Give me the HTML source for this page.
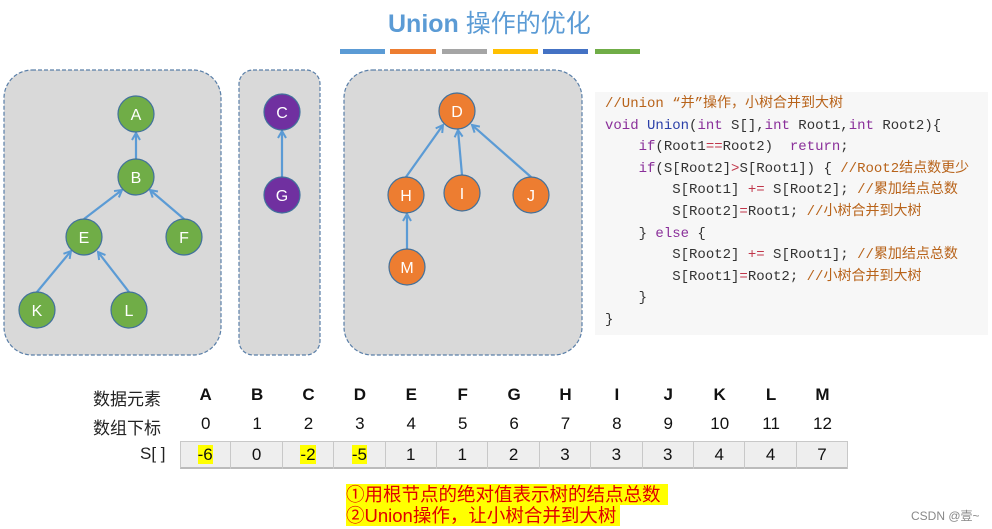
<!DOCTYPE html>
<html><head><meta charset="utf-8"><style>
body{margin:0;width:992px;height:529px;background:#fff;position:relative;overflow:hidden;font-family:"Liberation Sans","Noto Sans CJK SC",sans-serif}
.a{position:absolute;white-space:nowrap}
.code{font-family:"Liberation Mono","Noto Sans CJK SC",monospace;font-size:14px;color:#333}
.k{color:#8a2f9a}.f{color:#2a3fa8}.c{color:#b8631a}.o{color:#c0364a}
.cell{position:absolute;top:441px;height:28px;width:51.4px;border-right:1px solid #c8c8c8;text-align:center;font-size:17px;line-height:28px;color:#111;box-sizing:border-box}
.hl{background:#ffff00}
</style></head><body>
<div class="a" style="left:388px;top:4px;font-size:25px;font-weight:bold;color:#5b9bd5">Union <span style="font-weight:normal">操作的优化</span></div>
<div class="a" style="left:340px;top:49px;width:45px;height:5px;background:#5b9bd5"></div>
<div class="a" style="left:390px;top:49px;width:46px;height:5px;background:#ed7d31"></div>
<div class="a" style="left:442px;top:49px;width:45px;height:5px;background:#a5a5a5"></div>
<div class="a" style="left:493px;top:49px;width:45px;height:5px;background:#ffc000"></div>
<div class="a" style="left:543px;top:49px;width:45px;height:5px;background:#4472c4"></div>
<div class="a" style="left:595px;top:49px;width:45px;height:5px;background:#70ad47"></div>

<svg class="a" style="left:0;top:0" width="992" height="529">
<defs><marker id="ar" markerWidth="10" markerHeight="10" refX="8" refY="5" orient="auto" markerUnits="userSpaceOnUse"><path d="M1,1 L8,5 L1,9" fill="none" stroke="#5b9bd5" stroke-width="2"/></marker></defs>
<g fill="#d9d9d9" stroke="#5a7fa8" stroke-width="1.2" stroke-dasharray="4,2">
<rect x="4" y="70" width="217" height="285" rx="28"/>
<rect x="239" y="70" width="81" height="285" rx="14"/>
<rect x="344" y="70" width="238" height="285" rx="28"/>
</g>
<g stroke="#5b9bd5" stroke-width="2.2" marker-end="url(#ar)">
<line x1="136" y1="159" x2="136" y2="133"/>
<line x1="84" y1="219" x2="122" y2="190"/>
<line x1="184" y1="219" x2="150" y2="190"/>
<line x1="37" y1="292" x2="71" y2="251"/>
<line x1="129" y1="292" x2="98" y2="252"/>
<line x1="282" y1="177" x2="282" y2="131"/>
<line x1="406" y1="177" x2="443" y2="125"/>
<line x1="462" y1="175" x2="458" y2="130"/>
<line x1="531" y1="177" x2="472" y2="125"/>
<line x1="407" y1="249" x2="407" y2="214"/>
</g>
<g stroke="#41719c" stroke-width="1.2">
<g fill="#70ad47"><circle cx="136" cy="114" r="18"/><circle cx="136" cy="177" r="18"/><circle cx="84" cy="237" r="18"/><circle cx="184" cy="237" r="18"/><circle cx="37" cy="310" r="18"/><circle cx="129" cy="310" r="18"/></g>
<g fill="#7030a0"><circle cx="282" cy="112" r="18"/><circle cx="282" cy="195" r="18"/></g>
<g fill="#ed7d31"><circle cx="457" cy="111" r="18"/><circle cx="406" cy="195" r="18"/><circle cx="462" cy="193" r="18"/><circle cx="531" cy="195" r="18"/><circle cx="407" cy="267" r="18"/></g>
</g>
<g fill="#fff" font-family="Liberation Sans,sans-serif" font-size="16" text-anchor="middle">
<text x="136" y="120">A</text><text x="136" y="183">B</text><text x="84" y="243">E</text><text x="184" y="243">F</text><text x="37" y="316">K</text><text x="129" y="316">L</text>
<text x="282" y="118">C</text><text x="282" y="201">G</text>
<text x="457" y="117">D</text><text x="406" y="201">H</text><text x="462" y="199">I</text><text x="531" y="201">J</text><text x="407" y="273">M</text>
</g>
</svg>

<div class="a" style="left:595px;top:92px;width:393px;height:243px;background:#f7f7f7"></div>
<div class="a code" style="left:605px;top:94px;line-height:21.6px">
<span class="c">//Union “并”操作，小树合并到大树</span><br>
<span class="k">void</span> <span class="f">Union</span>(<span class="k">int</span> S[],<span class="k">int</span> Root1,<span class="k">int</span> Root2){<br>
&nbsp;&nbsp;&nbsp;&nbsp;<span class="k">if</span>(Root1<span class="o">==</span>Root2)&nbsp;&nbsp;<span class="k">return</span>;<br>
&nbsp;&nbsp;&nbsp;&nbsp;<span class="k">if</span>(S[Root2]<span class="o">&gt;</span>S[Root1]) { <span class="c">//Root2结点数更少</span><br>
&nbsp;&nbsp;&nbsp;&nbsp;&nbsp;&nbsp;&nbsp;&nbsp;S[Root1] <span class="o">+=</span> S[Root2]; <span class="c">//累加结点总数</span><br>
&nbsp;&nbsp;&nbsp;&nbsp;&nbsp;&nbsp;&nbsp;&nbsp;S[Root2]<span class="o">=</span>Root1; <span class="c">//小树合并到大树</span><br>
&nbsp;&nbsp;&nbsp;&nbsp;} <span class="k">else</span> {<br>
&nbsp;&nbsp;&nbsp;&nbsp;&nbsp;&nbsp;&nbsp;&nbsp;S[Root2] <span class="o">+=</span> S[Root1]; <span class="c">//累加结点总数</span><br>
&nbsp;&nbsp;&nbsp;&nbsp;&nbsp;&nbsp;&nbsp;&nbsp;S[Root1]<span class="o">=</span>Root2; <span class="c">//小树合并到大树</span><br>
&nbsp;&nbsp;&nbsp;&nbsp;}<br>
}
</div>

<div class="a" style="left:93px;top:385px;font-size:17px;color:#222">数据元素</div>
<div class="a" style="left:93px;top:414px;font-size:17px;color:#222">数组下标</div>
<div class="a" style="left:140px;top:444px;font-size:17px;color:#222">S[ ]</div>
<div class="a" style="left:180px;top:441px;width:668px;height:28px;background:#eeeeee;border:1px solid #c8c8c8;border-bottom:2px solid #bbb;box-sizing:border-box"></div>
<div id="t"></div>
<script>
var L="ABCDEFGHIJKLM".split(""),V=["-6","0","-2","-5","1","1","2","3","3","3","4","4","7"],h="";
for(var i=0;i<13;i++){var x=180+i*51.4;
h+='<div class="a" style="left:'+x+'px;top:385px;width:51.4px;text-align:center;font-size:17px;font-weight:bold;color:#111">'+L[i]+'</div>';
h+='<div class="a" style="left:'+x+'px;top:414px;width:51.4px;text-align:center;font-size:17px;color:#111">'+i+'</div>';
h+='<div class="cell" style="left:'+x+'px">'+(V[i][0]=="-"?'<span class="hl">'+V[i]+'</span>':V[i])+'</div>';}
document.getElementById("t").innerHTML=h;
</script>
<div class="a" style="left:346px;top:484px;background:#ffff00;color:#e00000;font-size:18.5px;line-height:21px;width:322px">①用根节点的绝对值表示树的结点总数</div>
<div class="a" style="left:346px;top:505px;background:#ffff00;color:#e00000;font-size:18.5px;line-height:21px;width:274px">②Union操作，让小树合并到大树</div>
<div class="a" style="left:911px;top:507px;font-size:12px;color:#888">CSDN @壹~</div>
</body></html>
